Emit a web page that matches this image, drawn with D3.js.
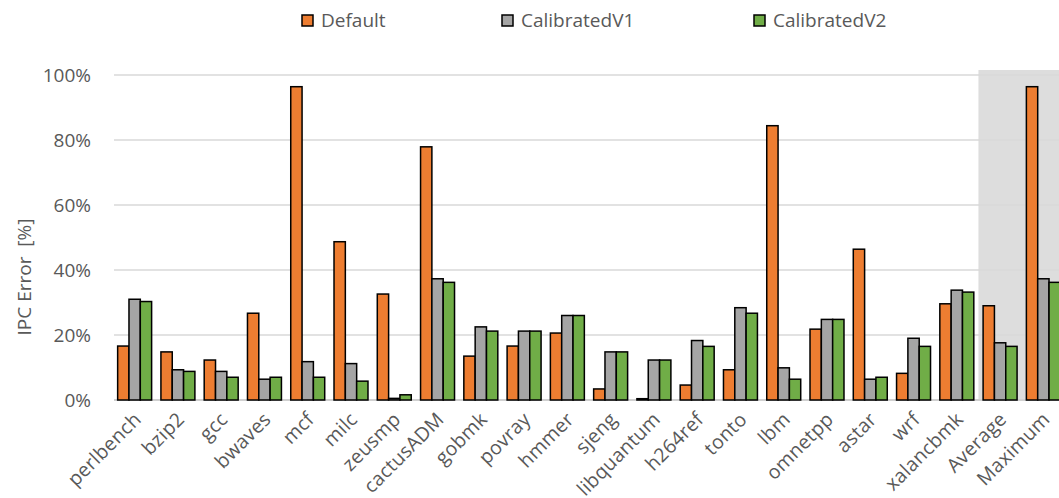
<!DOCTYPE html>
<html>
<head>
<meta charset="utf-8">
<script src="https://cdn.jsdelivr.net/npm/d3@7"></script>
<style>
  html, body { margin: 0; padding: 0; background: #fff; }
  svg { display: block; }
  text { font-family: "Open Sans", "Noto Sans", sans-serif; fill: #595959; }
</style>
</head>
<body>
<svg id="chart" width="1059" height="498"></svg>
<script>
const categories = ["perlbench","bzip2","gcc","bwaves","mcf","milc","zeusmp","cactusADM","gobmk","povray","hmmer","sjeng","libquantum","h264ref","tonto","lbm","omnetpp","astar","wrf","xalancbmk","Average","Maximum"];
const seriesNames = ["Default","CalibratedV1","CalibratedV2"];
const defaultErr = [16.6,14.8,12.3,26.7,96.4,48.7,32.6,77.9,13.5,16.6,20.6,3.4,0.4,4.6,9.3,84.4,21.8,46.4,8.2,29.6,29.0,96.4];
const calibratedV1 = [31.0,9.3,8.8,6.4,11.8,11.2,0.5,37.3,22.5,21.2,26.0,14.8,12.3,18.3,28.4,9.9,24.8,6.4,19.0,33.8,17.6,37.3];
const calibratedV2 = [30.3,8.8,7.0,7.0,7.0,5.8,1.6,36.2,21.2,21.2,26.0,14.8,12.3,16.5,26.7,6.4,24.8,7.0,16.5,33.2,16.5,36.2];
const yTicks = [0,20,40,60,80,100];
const shadedCats = ["Average","Maximum"];
const colors = ["#ED7D31","#A5A5A5","#70AD47"];

const svg = d3.select("#chart");
const plotLeft = 113, plotRight = 1065, plotTop = 75, plotBottom = 400;

const x0 = d3.scaleBand().domain(categories).range([plotLeft, plotRight])
  .paddingInner(0.215).paddingOuter(0.1075);
const x1 = d3.scaleBand().domain(seriesNames).range([0, x0.bandwidth()]);
const y = d3.scaleLinear().domain([0, 100]).range([plotBottom, plotTop]);

const series = [defaultErr, calibratedV1, calibratedV2];

// shaded region
const gapHalf = x0.step() * x0.paddingInner() / 2;
svg.append("rect")
  .attr("x", x0(shadedCats[0]) - gapHalf)
  .attr("y", y(100) - 5)
  .attr("width", 1059 - (x0(shadedCats[0]) - gapHalf) + 10)
  .attr("height", plotBottom - y(100) + 5)
  .attr("fill", "#dddddd");

// gridlines
svg.append("g").selectAll("line").data(yTicks).join("line")
  .attr("x1", 114).attr("x2", 1059)
  .attr("y1", d => y(d)).attr("y2", d => y(d))
  .attr("stroke", d => d === 0 ? "#d0d0d0" : "#d9d9d9")
  .attr("stroke-width", d => d === 0 ? 2 : 1.5);

// y axis labels
const yAxis = d3.axisLeft(y).tickValues(yTicks).tickFormat(d => d + "%").tickSize(0).tickPadding(0);
const ya = svg.append("g").attr("transform", "translate(91,0)").call(yAxis);
ya.select(".domain").remove();
ya.selectAll("text").attr("font-size", 19).style("fill", "#595959")
  .style("font-family", '"Open Sans", sans-serif');

// y title
svg.append("text")
  .attr("transform", "translate(31,277) rotate(-90)")
  .attr("text-anchor", "middle")
  .attr("font-size", 19)
  .style("white-space", "pre")
  .text("IPC Error  [%]");

// bars
const g = svg.append("g");
categories.forEach((c, i) => {
  series.forEach((s, j) => {
    g.append("rect")
      .attr("x", x0(c) + x1(seriesNames[j]))
      .attr("y", y(s[i]))
      .attr("width", x1.bandwidth())
      .attr("height", y(0) - y(s[i]))
      .attr("fill", colors[j])
      .attr("stroke", "#000")
      .attr("stroke-width", 1.5);
  });
});

// x labels
const xAxis = d3.axisBottom(x0).tickSize(0).tickPadding(0);
const xa = svg.append("g").call(xAxis);
xa.select(".domain").remove();
xa.selectAll(".tick").attr("transform", d => `translate(${x0(d) + x0.bandwidth() / 2 - 2},411)`);
xa.selectAll("text")
  .attr("y", 0).attr("x", 0).attr("dy", "0.7em")
  .attr("transform", "rotate(-45)")
  .attr("text-anchor", "end")
  .attr("font-size", 19.5)
  .style("letter-spacing", "0.25px")
  .style("fill", "#595959")
  .style("font-family", '"Open Sans", sans-serif');

// legend
const legendX = [302, 502, 754];
const lg = svg.append("g").selectAll("g").data(seriesNames).join("g")
  .attr("transform", (d, i) => `translate(${legendX[i]},15)`);
lg.append("rect").attr("width", 11).attr("height", 11)
  .attr("fill", (d, i) => colors[i]).attr("stroke", "#000").attr("stroke-width", 1.5);
lg.append("text").attr("x", 19).attr("y", 12).attr("font-size", 19).text(d => d);
</script>
</body>
</html>
